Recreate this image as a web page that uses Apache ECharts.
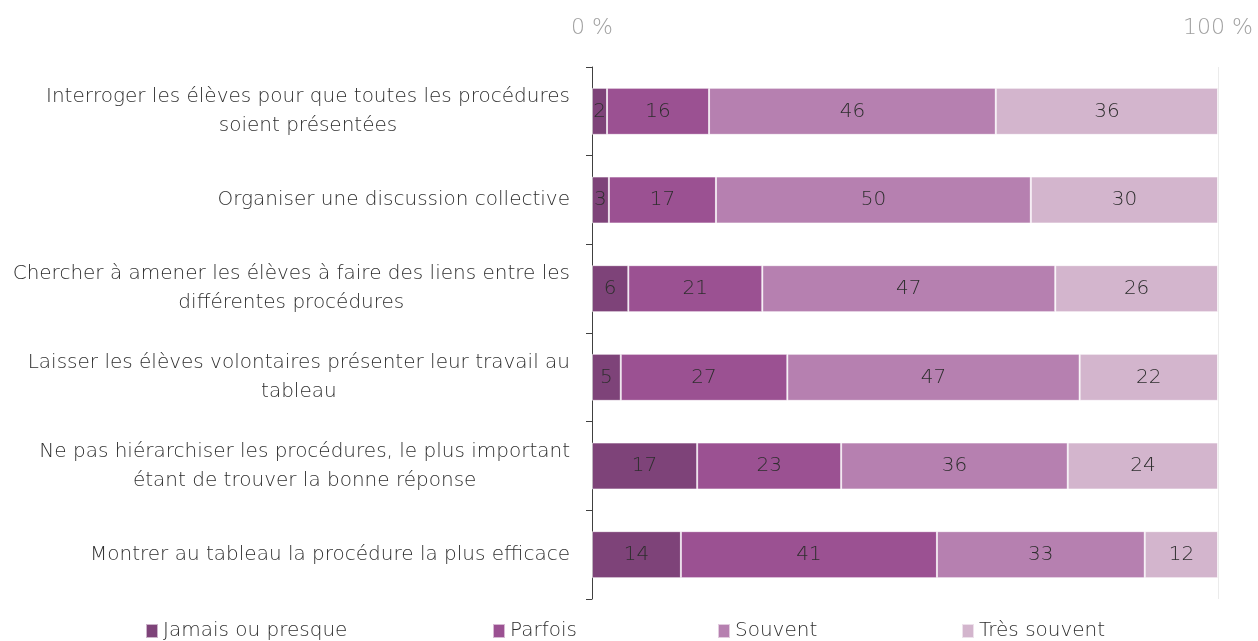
<!DOCTYPE html>
<html>
<head>
<meta charset="utf-8">
<script src="https://cdn.jsdelivr.net/npm/echarts@6/dist/echarts.min.js"></script>
<style>
  html, body { margin: 0; padding: 0; background: #fff; }
  #chart { width: 1258px; height: 641px; }
</style>
</head>
<body>
<div id="chart"></div>
<script>
// categories (top to bottom)
var categories = [
  'Interroger les élèves pour que toutes les procédures\nsoient présentées',
  'Organiser une discussion collective',
  'Chercher à amener les élèves à faire des liens entre les\ndifférentes procédures',
  'Laisser les élèves volontaires présenter leur travail au\ntableau',
  'Ne pas hiérarchiser les procédures, le plus important\nétant de trouver la bonne réponse',
  'Montrer au tableau la procédure la plus efficace'
];

// shares in % (labels show rounded values)
var jamais = [2.4, 2.7, 5.8, 4.6, 16.8, 14.2];
var parfois = [16.3, 17.1, 21.4, 26.6, 23.0, 40.9];
var souvent = [45.8, 50.3, 46.8, 46.7, 36.2, 33.2];
var tresSouvent = [35.5, 29.9, 26.0, 22.1, 24.0, 11.7];

var seriesNames = ['Jamais ou presque', 'Parfois', 'Souvent', 'Très souvent'];
var colors = ['#7e4379', '#9b5192', '#b680b0', '#d3b5cd'];
var legendLeft = [145, 492, 717, 961];

var FONT = 'DejaVu Sans';
var txt = '#2e2e2e';

var chart = echarts.init(document.getElementById('chart'));

function mkSeries(name, data, i) {
  return {
    name: name,
    type: 'bar',
    stack: 'total',
    barWidth: 47,
    data: data,
    itemStyle: { color: colors[i], borderColor: 'rgba(255,255,255,0.6)', borderWidth: 1 },
    label: {
      show: true,
      position: 'inside',
      color: txt,
      fontFamily: FONT,
      fontWeight: 200,
      fontSize: 20,
      formatter: function (p) { return Math.round(p.value); }
    }
  };
}

var legends = seriesNames.map(function (n, i) {
  return {
    data: [n],
    left: legendLeft[i],
    top: 621,
    padding: 0,
    itemWidth: 12,
    itemHeight: 14,
    icon: 'rect',
    textStyle: { color: txt, fontFamily: FONT, fontWeight: 200, fontSize: 20 },
    selectedMode: false
  };
});

var option = {
  animation: false,
  color: colors,
  legend: legends,
  grid: { left: 592, right: 40, top: 67, bottom: 42, containLabel: false },
  xAxis: {
    type: 'value',
    position: 'top',
    min: 0,
    max: 100,
    interval: 100,
    axisLine: { show: false },
    axisTick: { show: false },
    axisLabel: {
      color: '#a0a0a0',
      fontFamily: FONT,
      fontWeight: 200,
      fontSize: 22,
      margin: 28,
      formatter: '{value} %'
    },
    splitLine: { show: true, lineStyle: { color: '#ebebeb', width: 1 } }
  },
  yAxis: {
    type: 'category',
    inverse: true,
    data: categories,
    axisLine: { show: true, lineStyle: { color: '#404040', width: 1 } },
    axisTick: { show: true, length: 6, lineStyle: { color: '#404040' } },
    axisLabel: {
      color: txt,
      fontFamily: FONT,
      fontWeight: 200,
      fontSize: 20,
      margin: 22,
      align: 'right',
      // centre each line of a wrapped label inside its block
      formatter: function (v) {
        return v.split('\n').map(function (l) { return '{c|' + l + '}'; }).join('\n');
      },
      rich: {
        c: { align: 'center', color: txt, fontFamily: FONT, fontWeight: 200, fontSize: 20, lineHeight: 29 }
      }
    }
  },
  series: [
    mkSeries(seriesNames[0], jamais, 0),
    mkSeries(seriesNames[1], parfois, 1),
    mkSeries(seriesNames[2], souvent, 2),
    mkSeries(seriesNames[3], tresSouvent, 3)
  ]
};

chart.setOption(option);
</script>
</body>
</html>
